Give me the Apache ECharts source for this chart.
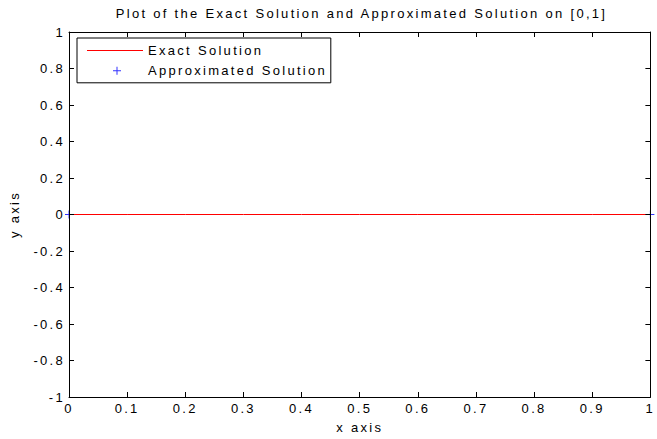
<!DOCTYPE html>
<html>
<head>
<meta charset="utf-8">
<script src="https://cdn.jsdelivr.net/npm/echarts@6/dist/echarts.min.js"></script>
<style>
  html, body { margin: 0; padding: 0; background: #fff; }
  #chart { width: 657px; height: 439px; }
  #chart text { letter-spacing: 2.3px; }
</style>
</head>
<body>
<div id="chart"></div>
<script>
// ---- data ----
const chartTitle = 'Plot of the Exact Solution and Approximated Solution on [0,1]';
const seriesNames = ['Exact Solution', 'Approximated Solution'];
const xExact = [0, 0.1, 0.2, 0.3, 0.4, 0.5, 0.6, 0.7, 0.8, 0.9, 1];
const yExact = [0, 0, 0, 0, 0, 0, 0, 0, 0, 0, 0];
const xApprox = [0, 1];
const yApprox = [0, 0];
const xAxisName = 'x axis';
const yAxisName = 'y axis';

const FONT = '"Liberation Sans", Arial, sans-serif';
const FS = 13;
const TXT = '#000';
const AX = '#000';

const exactData = xExact.map((x, i) => [x, yExact[i]]);
const approxData = xApprox.map((x, i) => [x, yApprox[i]]);

const plusMark = 'path://M0,3.5h8v1h-8Z M3.5,0h1v8h-1Z';
const plusLegend = 'path://M0,0h0.01v0.01h-0.01Z M56,14h-0.01v-0.01h0.01Z M26,6.5h8v1h-8Z M29.5,3h1v8h-1Z';
const lineLegend = 'path://M0,0h0.01v0.01h-0.01Z M56,14h-0.01v-0.01h0.01Z M0,6.5h56v1h-56Z';

const tickCommon = { show: true, inside: true, length: 5, lineStyle: { color: AX, width: 1 } };
const lineCommon = { show: true, onZero: false, lineStyle: { color: AX, width: 1 } };

const chart = echarts.init(document.getElementById('chart'), null, { renderer: 'svg' });
chart.setOption({
  animation: false,
  backgroundColor: '#fff',
  textStyle: { fontFamily: FONT },
  title: {
    text: chartTitle,
    left: 361.5,
    textAlign: 'center',
    top: 7,
    padding: 0,
    textStyle: { fontFamily: FONT, fontSize: FS, fontWeight: 'normal', color: TXT }
  },
  legend: {
    orient: 'vertical',
    left: 77,
    top: 38,
    padding: [5.5, 52, 5, 10],
    itemWidth: 56,
    itemHeight: 14,
    itemGap: 6.3,
    borderColor: '#000',
    borderWidth: 1,
    backgroundColor: '#fff',
    textStyle: { fontFamily: FONT, fontSize: FS, color: TXT, lineHeight: 14 },
    data: [
      { name: seriesNames[0], icon: lineLegend },
      { name: seriesNames[1], icon: plusLegend }
    ]
  },
  grid: { left: 68, right: 2, top: 32, bottom: 37, containLabel: false, show: false },
  xAxis: [
    {
      type: 'value', position: 'bottom', min: 0, max: 1, interval: 0.1, z: 5,
      name: xAxisName, nameLocation: 'middle', nameGap: 24,
      nameTextStyle: { fontFamily: FONT, fontSize: FS, color: TXT },
      axisLine: lineCommon, axisTick: tickCommon,
      axisLabel: { margin: 5, fontFamily: FONT, fontSize: FS, color: TXT },
      splitLine: { show: false }
    },
    {
      type: 'value', position: 'top', min: 0, max: 1, interval: 0.1, z: 5,
      axisLine: lineCommon, axisTick: tickCommon,
      axisLabel: { show: false }, splitLine: { show: false }
    }
  ],
  yAxis: [
    {
      type: 'value', position: 'left', min: -1, max: 1, interval: 0.2, z: 5,
      name: yAxisName, nameLocation: 'middle', nameGap: 48,
      nameTextStyle: { fontFamily: FONT, fontSize: FS, color: TXT },
      axisLine: lineCommon, axisTick: tickCommon,
      axisLabel: { margin: 4, fontFamily: FONT, fontSize: FS, color: TXT },
      splitLine: { show: false }
    },
    {
      type: 'value', position: 'right', min: -1, max: 1, interval: 0.2, z: 5,
      axisLine: lineCommon, axisTick: tickCommon,
      axisLabel: { show: false }, splitLine: { show: false }
    }
  ],
  series: [
    {
      name: seriesNames[0], type: 'line', z: 3,
      data: exactData, showSymbol: false, symbol: 'none',
      lineStyle: { color: '#ff0000', width: 1 }, itemStyle: { color: '#ff0000' }
    },
    {
      name: seriesNames[1], type: 'scatter', z: 2,
      data: approxData, symbol: plusMark, symbolSize: 8,
      itemStyle: { color: '#0000ff' }
    }
  ]
});
</script>
</body>
</html>
